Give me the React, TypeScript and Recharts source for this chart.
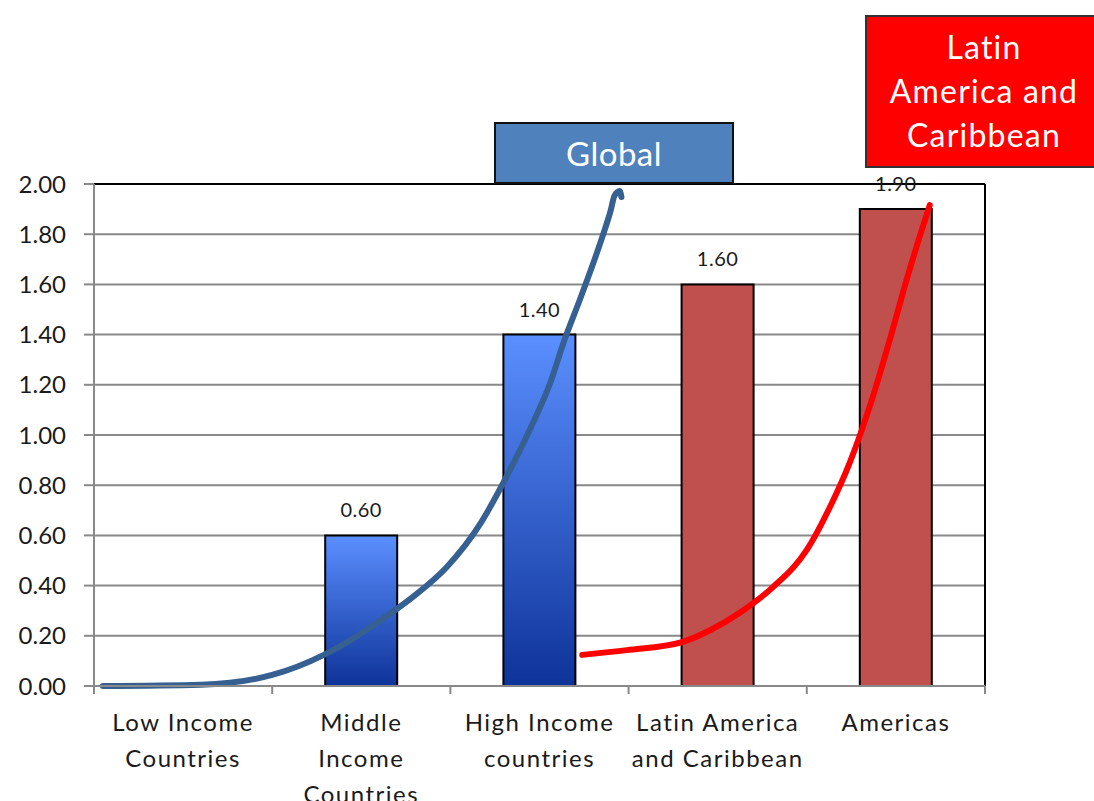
import React from 'react'
import { ComposedChart, Bar, Line, Cell, LabelList, XAxis, YAxis, CartesianGrid, ReferenceLine } from 'recharts'

const categories = ['Low Income\nCountries', 'Middle\nIncome\nCountries', 'High Income\ncountries', 'Latin America\nand Caribbean', 'Americas']
const values = [0, 0.6, 1.4, 1.6, 1.9]
const groups = ['income', 'income', 'income', 'region', 'region']
const yTicks = [0, 0.2, 0.4, 0.6, 0.8, 1.0, 1.2, 1.4, 1.6, 1.8, 2.0]

// hand drawn arrows in category units (x) and axis units (y)
const globalCurveX = [0.05, 0.6, 1.0, 1.29, 1.44, 1.61, 1.79, 1.98, 2.17, 2.32, 2.45, 2.56, 2.64, 2.73, 2.8, 2.86, 2.9, 2.92, 2.95, 2.96]
const globalCurveY = [0.0, 0.005, 0.044, 0.124, 0.183, 0.263, 0.355, 0.474, 0.649, 0.841, 1.028, 1.207, 1.378, 1.546, 1.681, 1.805, 1.896, 1.952, 1.972, 1.948]
const regionCurveX = [2.74, 2.99, 3.3, 3.46, 3.63, 3.81, 4.0, 4.13, 4.24, 4.37, 4.47, 4.56, 4.64, 4.69]
const regionCurveY = [0.124, 0.143, 0.175, 0.223, 0.295, 0.394, 0.542, 0.713, 0.888, 1.151, 1.39, 1.618, 1.805, 1.916]

const data = categories.map((name, i) => ({ name, value: values[i], group: groups[i] }))
const globalCurve = globalCurveX.map((x, i) => ({ x, y: globalCurveY[i] }))
const regionCurve = regionCurveX.map((x, i) => ({ x, y: regionCurveY[i] }))

const FONT = 'Lato, "Open Sans", sans-serif'
const GRID = '#898989'
const groupFill: Record<string, string> = { income: 'url(#blueBar)', region: '#C0504D' }

// label split on \n, plus the excel-style tick marks on the category boundaries
function CategoryTick(props: any) {
  const { x, y, payload, index, width, visibleTicksCount } = props
  const lines = String(payload.value).split('\n')
  const half = width / visibleTicksCount / 2
  return (
    <g>
      {index === 0 && <line x1={x - half} x2={x - half} y1={y} y2={y + 8} stroke={GRID} strokeWidth={2} />}
      <line x1={x + half} x2={x + half} y1={y} y2={y + 8} stroke={GRID} strokeWidth={2} />
      <text x={x} y={y} textAnchor="middle" fontSize={24} letterSpacing={1.5} fill="#1a1a1a" fontFamily={FONT}>
        {lines.map((l, i) => (
          <tspan key={i} x={x} y={y + 45 + i * 36}>{l}</tspan>
        ))}
      </text>
    </g>
  )
}

export default function App() {
  return (
    <div style={{ position: 'absolute', left: 0, top: 0, width: 1094, height: 801, overflow: 'hidden', background: '#fff', fontFamily: FONT }}>
      <ComposedChart width={1094} height={801} data={data} margin={{ top: 184, right: 109, bottom: 0, left: 0 }}>
        <defs>
          <linearGradient id="blueBar" x1="0" y1="0" x2="0" y2="1">
            <stop offset="0%" stopColor="#5B8FFF" />
            <stop offset="100%" stopColor="#0E3399" />
          </linearGradient>
        </defs>
        <CartesianGrid xAxisId="cat" vertical={false} stroke={GRID} strokeWidth={2} />
        <XAxis
          xAxisId="cat"
          dataKey="name"
          height={115}
          axisLine={{ stroke: GRID, strokeWidth: 2 }}
          tickLine={false}
          tickSize={0}
          tickMargin={0}
          interval={0}
          tick={<CategoryTick />}
        />
        <XAxis xAxisId="curve" type="number" dataKey="x" domain={[0, 5]} hide />
        <YAxis
          domain={[0, 2]}
          ticks={yTicks}
          width={94}
          axisLine={{ stroke: GRID, strokeWidth: 2 }}
          tickLine={{ stroke: GRID, strokeWidth: 2 }}
          tickSize={10}
          tickMargin={18}
          tickFormatter={(v: number) => v.toFixed(2)}
          tick={{ fontSize: 24, fill: '#1a1a1a', fontFamily: FONT }}
        />
        <Bar xAxisId="cat" dataKey="value" barSize={72} stroke="#000" strokeWidth={2} isAnimationActive={false}>
          {data.map((d, i) => (
            <Cell key={i} fill={groupFill[d.group]} />
          ))}
          <LabelList
            dataKey="value"
            position="top"
            offset={18}
            formatter={(v: any) => Number(v).toFixed(2)}
            style={{ fontSize: 20, fill: '#1a1a1a', fontFamily: FONT, letterSpacing: 0.5 }}
          />
        </Bar>
        <ReferenceLine xAxisId="cat" y={2} stroke="#000" strokeWidth={2} />
        <ReferenceLine xAxisId="curve" x={5} stroke="#000" strokeWidth={2} />
        <Line
          xAxisId="curve"
          data={globalCurve}
          dataKey="y"
          type="monotone"
          stroke="#366092"
          strokeWidth={6}
          strokeLinecap="round"
          dot={false}
          activeDot={false}
          isAnimationActive={false}
        />
        <Line
          xAxisId="curve"
          data={regionCurve}
          dataKey="y"
          type="monotone"
          stroke="#FF0000"
          strokeWidth={6}
          strokeLinecap="round"
          dot={false}
          activeDot={false}
          isAnimationActive={false}
        />
      </ComposedChart>
      <div style={{ position: 'absolute', left: 494, top: 122, width: 240, height: 62, boxSizing: 'border-box', background: '#4F81BD', border: '2px solid #111', color: '#fff', fontSize: 33, letterSpacing: 0.5, lineHeight: '58px', textAlign: 'center' }}>
        Global
      </div>
      <div style={{ position: 'absolute', left: 865, top: 15, width: 238, height: 153, boxSizing: 'border-box', background: '#FF0000', border: '2px solid #333', color: '#fff', fontSize: 32, letterSpacing: 1.2, lineHeight: '44px', paddingTop: 8, textAlign: 'center' }}>
        Latin<br />America and<br />Caribbean
      </div>
    </div>
  )
}
